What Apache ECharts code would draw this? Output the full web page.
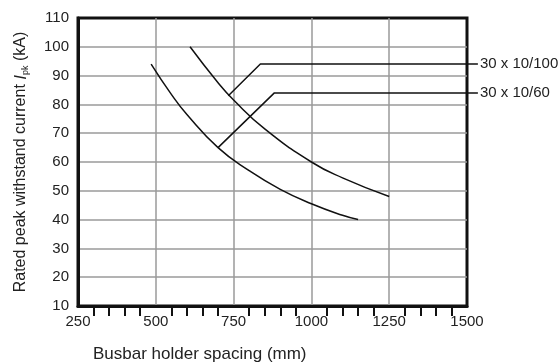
<!DOCTYPE html>
<html>
<head>
<meta charset="utf-8">
<script src="https://cdn.jsdelivr.net/npm/echarts@6/dist/echarts.min.js"></script>
<style>
  html, body { margin: 0; padding: 0; background: #fff; }
  #chart { width: 559px; height: 363px; }
</style>
</head>
<body>
<div id="chart"></div>
<script>
// curves: [spacing mm, kA]
var curveLow = [[485, 94], [550, 83.5], [600, 76.5], [700, 65], [800, 57], [900, 50.5], [1000, 45.5], [1100, 41.5], [1150, 40]];
var curveHigh = [[610, 100], [700, 87.5], [750, 81.5], [850, 71.5], [1000, 60], [1100, 54.5], [1250, 48]];
// leader lines to the labels on the right (they run a little past the frame)
var lead100 = [[733, 83], [836, 94], [1535, 94]];
var lead60 = [[700, 65], [881, 84], [1535, 84]];
var leadNames = ['30 x 10/100', '30 x 10/60'];
var xTicks = [250, 500, 750, 1000, 1250, 1500];
var yTicks = [10, 20, 30, 40, 50, 60, 70, 80, 90, 100, 110];

var myChart = echarts.init(document.getElementById('chart'));

var font = 'Liberation Sans, Arial, sans-serif';
var lineStyle = { color: '#111', width: 1.5 };

// px per mm in the main grid, used to size a hidden grid with the same scale
// that reaches past the right frame (line series are always clipped in x)
var plotLeft = 78, plotRight = 92, W = 559;
var xMin = xTicks[0], xMax = xTicks[xTicks.length - 1], xMaxLead = 1540;
var pxPerUnit = (W - plotLeft - plotRight) / (xMax - xMin);
var leadRight = W - plotLeft - (xMaxLead - xMin) * pxPerUnit;

function curve(data) {
    return {
        type: 'line', data: data, smooth: true, showSymbol: false,
        lineStyle: lineStyle, silent: true
    };
}
function leader(name, data) {
    return {
        type: 'line', name: name, data: data, showSymbol: false,
        xAxisIndex: 1, yAxisIndex: 1,
        lineStyle: lineStyle, silent: true,
        endLabel: { show: true, formatter: '{a}', distance: 2, color: '#222', fontSize: 15, fontFamily: font }
    };
}

myChart.setOption({
    animation: false,
    title: {
        text: 'Busbar holder spacing (mm)',
        left: 88, top: 341,
        textStyle: { fontSize: 17, fontWeight: 'normal', color: '#222', fontFamily: font }
    },
    grid: [
        { left: plotLeft, right: plotRight, top: 18, bottom: 57, show: true, borderColor: '#111', borderWidth: 3 },
        { left: plotLeft, right: leadRight, top: 18, bottom: 57 }
    ],
    xAxis: [{
        type: 'value', min: xMin, max: xMax, interval: 250,
        axisLine: { show: true, lineStyle: { color: '#111', width: 3 } },
        axisTick: { show: false },
        minorTick: { show: true, splitNumber: 5, length: 10, lineStyle: { color: '#111', width: 2 } },
        splitLine: { show: true, showMinLine: false, showMaxLine: false, lineStyle: { color: '#9a9a9a', width: 1.5 } },
        axisLabel: { color: '#222', fontSize: 15, margin: 8, fontFamily: font, formatter: function (v) { return String(v); } }
    }, {
        type: 'value', gridIndex: 1, min: xMin, max: xMaxLead, show: false
    }],
    yAxis: [{
        type: 'value', min: yTicks[0], max: yTicks[yTicks.length - 1], interval: 10,
        name: '{a|Rated peak withstand current }{i|I}{s|pk}{a| (kA)}',
        nameLocation: 'middle', nameGap: 48,
        nameTextStyle: {
            color: '#222', fontFamily: font,
            rich: {
                a: { fontSize: 16, color: '#222', fontFamily: font },
                i: { fontSize: 17, color: '#222', fontStyle: 'italic', fontFamily: font },
                s: { fontSize: 9, color: '#222', fontFamily: font, padding: [9, 0, 0, 0] }
            }
        },
        axisLine: { show: true, lineStyle: { color: '#111', width: 3 } },
        axisTick: { show: false },
        splitLine: { show: true, showMinLine: false, showMaxLine: false, lineStyle: { color: '#9a9a9a', width: 1.5 } },
        axisLabel: { color: '#222', fontSize: 15, margin: 9, fontFamily: font }
    }, {
        type: 'value', gridIndex: 1, min: yTicks[0], max: yTicks[yTicks.length - 1], show: false
    }],
    series: [
        curve(curveLow),
        curve(curveHigh),
        leader(leadNames[0], lead100),
        leader(leadNames[1], lead60)
    ]
});
</script>
</body>
</html>
